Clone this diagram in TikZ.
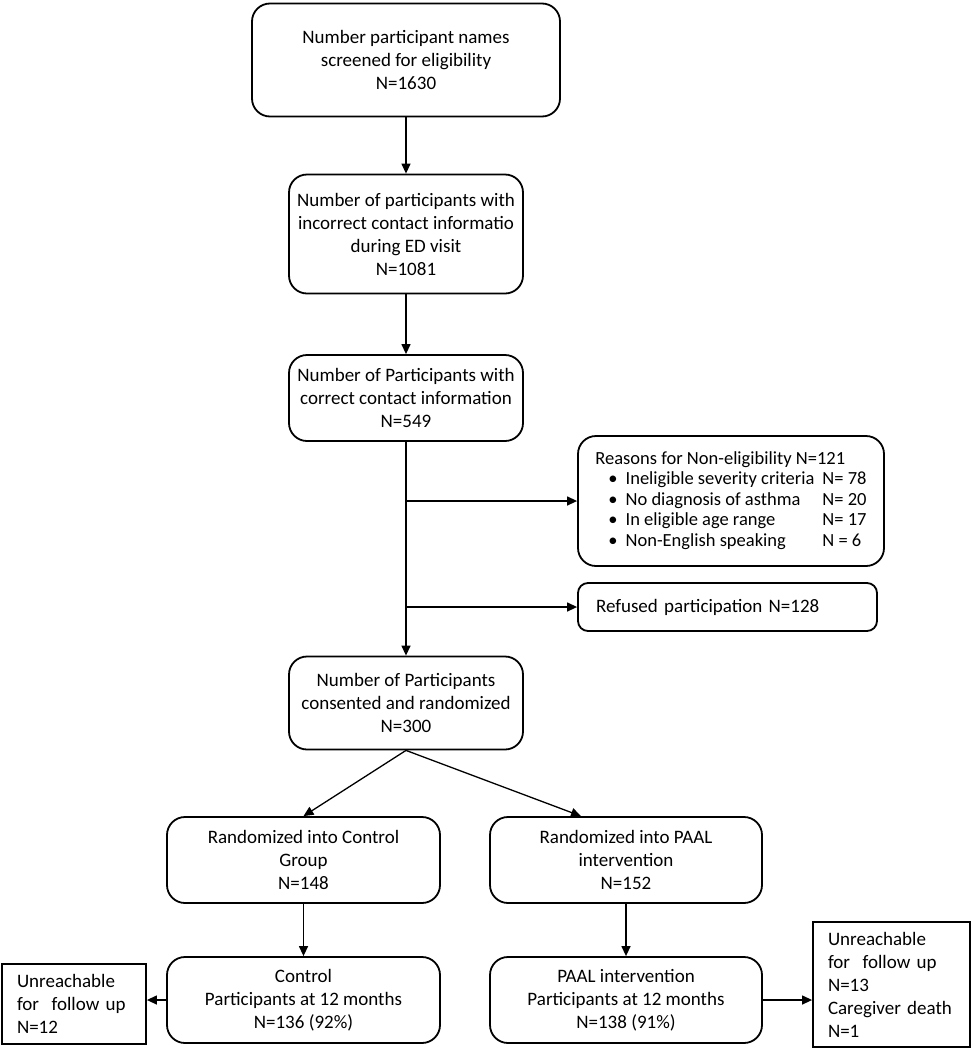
\documentclass[tikz,border=0pt]{standalone}
\usepackage{fontspec}
\setmainfont{Carlito}
\usetikzlibrary{arrows.meta,positioning}

\begin{document}
\begin{tikzpicture}[x=1pt,y=-1pt,
    every node/.style={font=\fontsize{19}{23}\selectfont},
    stage/.style={draw,rounded corners=18pt,line width=1.8pt,align=center,inner sep=0pt},
    side/.style={draw,line width=1.8pt,align=left,inner ysep=0pt},
    arr/.style={line width=1.3pt,-{Triangle[length=10pt,width=9pt]}},
]
    \useasboundingbox (0,0) rectangle (972,1050);

    \node[stage,minimum width=308pt,minimum height=113pt] (screen) at (406,60)
        {Number participant names\\screened for eligibility\\N=1630};
    \node[stage,minimum width=234pt,minimum height=119pt] (wrong) at (406,234)
        {Number of participants with\\incorrect contact informatio\\during ED visit\\N=1081};
    \node[stage,minimum width=234pt,minimum height=86pt] (right) at (406,398)
        {Number of Participants with\\correct contact information\\N=549};
    \node[stage,minimum width=306pt,minimum height=130pt,font=\fontsize{18.5}{20.5}\selectfont] (reasons) at (731,501)
        {\begin{tabular}{@{\hspace{13pt}}l@{\hspace{8pt}}l@{\hspace{8pt}}l@{}}
            \multicolumn{3}{@{}l@{}}{Reasons for Non-eligibility N=121}\\
            \textbullet & Ineligible severity criteria & N= 78\\
            \textbullet & No diagnosis of asthma & N= 20\\
            \textbullet & In eligible age range & N= 17\\
            \textbullet & Non-English speaking & N = 6
        \end{tabular}};
    \node[stage,rounded corners=10pt,align=left,text width=263pt,inner xsep=18pt,minimum height=48pt] (refused) at (727.5,607)
        {Refused participation N=128};
    \node[stage,minimum width=234pt,minimum height=93pt] (consent) at (406,703)
        {Number of Participants\\consented and randomized\\N=300};

    \node[stage,minimum width=273pt,minimum height=86pt] (ctrl) at (303.5,860)
        {Randomized into Control\\Group\\N=148};
    \node[stage,minimum width=272pt,minimum height=86pt] (paal) at (626,860)
        {Randomized into PAAL\\intervention\\N=152};
    \node[stage,minimum width=273pt,minimum height=86pt] (ctrl12) at (303.5,1000)
        {Control\\Participants at 12 months\\N=136 (92\%)};
    \node[stage,minimum width=272pt,minimum height=86pt] (paal12) at (626,1000)
        {PAAL intervention\\Participants at 12 months\\N=138 (91\%)};

    \node[side,text width=114pt,inner xsep=15pt,minimum height=80pt] (lostctrl) at (74,1004)
        {Unreachable\\for\ \ follow up\\N=12};
    \node[side,text width=127pt,inner xsep=15pt,minimum height=125pt] (lostpaal) at (891.5,984.5)
        {Unreachable\\for\ \ follow up\\N=13\\Caregiver death\\N=1};

    \draw[arr] (screen) -- (wrong);
    \draw[arr] (wrong) -- (right);
    \draw[arr] (right) -- (consent);
    \draw[arr] (right.south |- reasons.west) -- (reasons.west);
    \draw[arr] (right.south |- refused.west) -- (refused.west);
    \draw[arr] (consent.south) -- (ctrl.north);
    \draw[arr] (consent.south) -- ([xshift=-45pt]paal.north);
    \draw[arr] (ctrl) -- (ctrl12);
    \draw[arr] (paal) -- (paal12);
    \draw[arr] (ctrl12.west) -- (ctrl12.west -| lostctrl.east);
    \draw[arr] (paal12.east) -- (paal12.east -| lostpaal.west);

\end{tikzpicture}
\end{document}
